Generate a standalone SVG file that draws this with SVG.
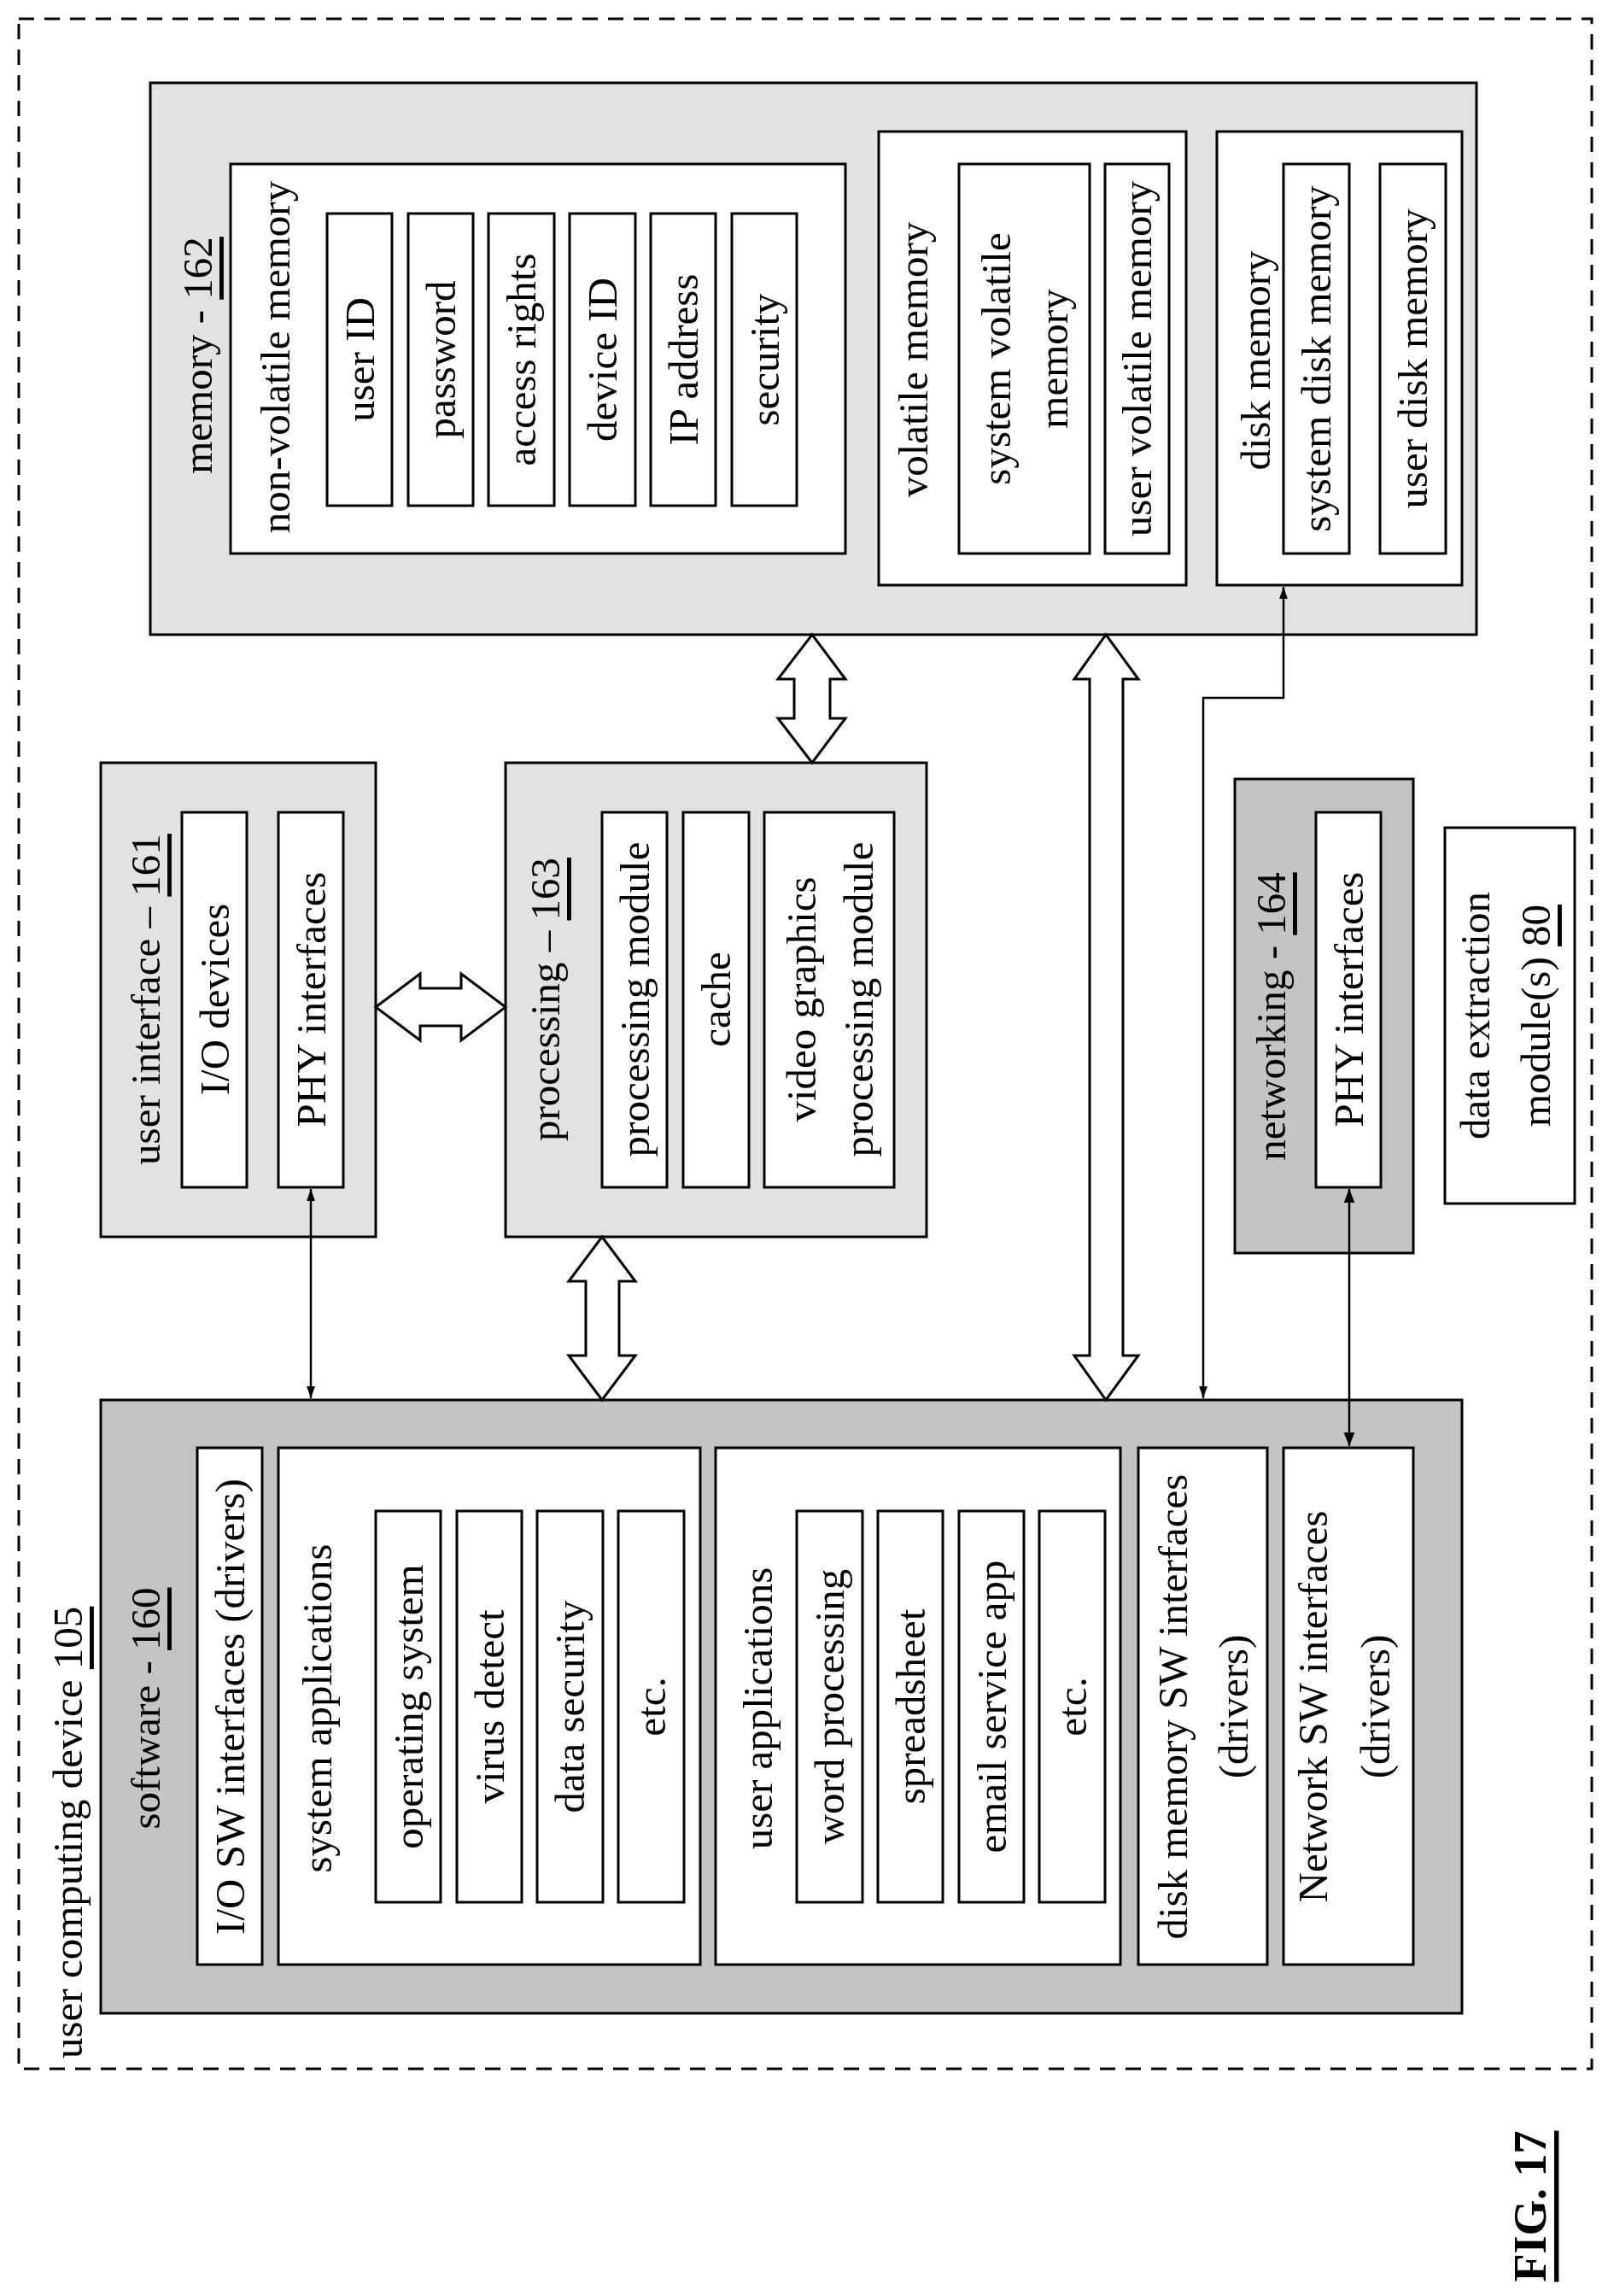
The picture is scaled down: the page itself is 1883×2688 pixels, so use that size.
<svg xmlns="http://www.w3.org/2000/svg" width="1883" height="2688" viewBox="0 0 1883 2688">
<style>
text{font-family:"Liberation Serif","Times New Roman",serif;font-size:49px;fill:#000;text-anchor:middle;dominant-baseline:central}
.b{fill:#fff;stroke:#000;stroke-width:3}
.l{fill:#e2e2e2;stroke:#000;stroke-width:3}
.d{fill:#c4c4c4;stroke:#000;stroke-width:3}
.fat{fill:#fff;stroke:#000;stroke-width:3;stroke-linejoin:miter}
.thin{fill:none;stroke:#000;stroke-width:2.5}
</style>
<defs>
<marker id="ah" viewBox="0 0 10 10" refX="10" refY="5" markerWidth="14" markerHeight="14" orient="auto-start-reverse" markerUnits="userSpaceOnUse"><path d="M0,1.5L10,5L0,8.5z" fill="#000"/></marker>
<marker id="ah2" viewBox="0 0 10 10" refX="10" refY="5" markerWidth="16" markerHeight="16" orient="auto-start-reverse" markerUnits="userSpaceOnUse"><path d="M0,1L10,5L0,9z" fill="#000"/></marker>
</defs>
<g id="device">
<rect x="22" y="22" width="1842" height="2400" fill="none" stroke="#000" stroke-width="3" stroke-dasharray="18,12"/>
<text transform="translate(79,2410) rotate(-90)" style="text-anchor:start">user computing device <tspan text-decoration="underline">105</tspan></text>
</g>
<g id="memory">
<rect class="l" x="176" y="97" width="1553" height="646"/>
<text transform="translate(231,416) rotate(-90)">memory - <tspan text-decoration="underline">162</tspan></text>
<rect class="b" x="270" y="192" width="720" height="456"/>
<text transform="translate(322,418) rotate(-90)">non-volatile memory</text>
<rect class="b" x="383" y="250" width="76" height="342"/><text transform="translate(421,421) rotate(-90)">user ID</text>
<rect class="b" x="478" y="250" width="76" height="342"/><text transform="translate(516,421) rotate(-90)">password</text>
<rect class="b" x="572" y="250" width="77" height="342"/><text transform="translate(610,421) rotate(-90)">access rights</text>
<rect class="b" x="667" y="250" width="77" height="342"/><text transform="translate(705,421) rotate(-90)">device ID</text>
<rect class="b" x="762" y="250" width="76" height="342"/><text transform="translate(800,421) rotate(-90)">IP address</text>
<rect class="b" x="857" y="250" width="76" height="342"/><text transform="translate(895,421) rotate(-90)">security</text>
<rect class="b" x="1029" y="154" width="360" height="531"/>
<text transform="translate(1069,421) rotate(-90)">volatile memory</text>
<rect class="b" x="1123" y="192" width="153" height="456"/>
<text transform="translate(1166,420) rotate(-90)">system volatile</text>
<text transform="translate(1233,420) rotate(-90)">memory</text>
<rect class="b" x="1294" y="192" width="75" height="456"/><text transform="translate(1331,420) rotate(-90)">user volatile memory</text>
<rect class="b" x="1425" y="154" width="287" height="531"/>
<text transform="translate(1470,422) rotate(-90)">disk memory</text>
<rect class="b" x="1503" y="192" width="77" height="456"/><text transform="translate(1541,420) rotate(-90)">system disk memory</text>
<rect class="b" x="1616" y="192" width="77" height="456"/><text transform="translate(1654,420) rotate(-90)">user disk memory</text>
</g>
<g id="user-interface">
<rect class="l" x="118" y="893" width="322" height="555"/>
<text transform="translate(170,1170) rotate(-90)">user interface – <tspan text-decoration="underline">161</tspan></text>
<rect class="b" x="213" y="951" width="76" height="439"/><text transform="translate(251,1170) rotate(-90)">I/O devices</text>
<rect class="b" x="326" y="951" width="76" height="439"/><text transform="translate(364,1170) rotate(-90)">PHY interfaces</text>
</g>
<g id="processing">
<rect class="l" x="592" y="893" width="493" height="555"/>
<text transform="translate(638,1170) rotate(-90)">processing – <tspan text-decoration="underline">163</tspan></text>
<rect class="b" x="705" y="951" width="76" height="439"/><text transform="translate(743,1170) rotate(-90)">processing module</text>
<rect class="b" x="800" y="951" width="77" height="439"/><text transform="translate(838,1170) rotate(-90)">cache</text>
<rect class="b" x="895" y="951" width="152" height="439"/>
<text transform="translate(938,1170) rotate(-90)">video graphics</text>
<text transform="translate(1005,1170) rotate(-90)">processing module</text>
</g>
<g id="networking">
<rect class="d" x="1446" y="912" width="209" height="555"/>
<text transform="translate(1488,1190) rotate(-90)">networking - <tspan text-decoration="underline">164</tspan></text>
<rect class="b" x="1541" y="951" width="76" height="439"/><text transform="translate(1579,1170) rotate(-90)">PHY interfaces</text>
</g>
<g id="data-extraction">
<rect class="b" x="1692" y="969" width="152" height="440"/>
<text transform="translate(1727,1189) rotate(-90)">data extraction</text>
<text transform="translate(1798,1189) rotate(-90)">module(s) <tspan text-decoration="underline">80</tspan></text>
</g>
<g id="software">
<rect class="d" x="118" y="1639" width="1594" height="718"/>
<text transform="translate(170,2000) rotate(-90)">software - <tspan text-decoration="underline">160</tspan></text>
<rect class="b" x="231" y="1695" width="76" height="605"/><text transform="translate(269,1998) rotate(-90)">I/O SW interfaces (drivers)</text>
<rect class="b" x="326" y="1695" width="494" height="605"/>
<text transform="translate(371,2000) rotate(-90)">system applications</text>
<rect class="b" x="440" y="1769" width="76" height="458"/><text transform="translate(478,1998) rotate(-90)">operating system</text>
<rect class="b" x="535" y="1769" width="76" height="458"/><text transform="translate(573,1998) rotate(-90)">virus detect</text>
<rect class="b" x="629" y="1769" width="77" height="458"/><text transform="translate(667,1998) rotate(-90)">data security</text>
<rect class="b" x="724" y="1769" width="77" height="458"/><text transform="translate(762,1998) rotate(-90)">etc.</text>
<rect class="b" x="838" y="1695" width="474" height="605"/>
<text transform="translate(887,2000) rotate(-90)">user applications</text>
<rect class="b" x="933" y="1769" width="77" height="458"/><text transform="translate(971,1998) rotate(-90)">word processing</text>
<rect class="b" x="1028" y="1769" width="76" height="458"/><text transform="translate(1066,1998) rotate(-90)">spreadsheet</text>
<rect class="b" x="1123" y="1769" width="76" height="458"/><text transform="translate(1161,1998) rotate(-90)">email service app</text>
<rect class="b" x="1217" y="1769" width="77" height="458"/><text transform="translate(1255,1998) rotate(-90)">etc.</text>
<rect class="b" x="1333" y="1695" width="151" height="605"/>
<text transform="translate(1373,1998) rotate(-90)">disk memory SW interfaces</text>
<text transform="translate(1444,1998) rotate(-90)">(drivers)</text>
<rect class="b" x="1503" y="1695" width="152" height="605"/>
<text transform="translate(1537,1998) rotate(-90)">Network SW interfaces</text>
<text transform="translate(1610,1998) rotate(-90)">(drivers)</text>
</g>
<g id="connectors">
<path class="fat" d="M951,743L990,795L972,795L972,841L990,841L951,893L911,841L930,841L930,795L911,795Z"/>
<path class="fat" d="M440,1179L492,1140L492,1157L540,1157L540,1140L592,1179L540,1218L540,1201L492,1201L492,1218Z"/>
<path class="fat" d="M705,1448L744,1500L725,1500L725,1587L744,1587L705,1639L666,1587L686,1587L686,1500L666,1500Z"/>
<path class="fat" d="M1295,743L1333,795L1315,795L1315,1587L1333,1587L1295,1639L1258,1587L1276,1587L1276,795L1258,795Z"/>
<line class="thin" x1="364" y1="1392" x2="364" y2="1637" marker-start="url(#ah)" marker-end="url(#ah)"/>
<line class="thin" x1="1580" y1="1392" x2="1580" y2="1693" marker-start="url(#ah2)" marker-end="url(#ah2)"/>
<polyline class="thin" points="1409,1637 1409,817 1503,817 1503,687" marker-start="url(#ah)" marker-end="url(#ah)"/>
</g>
<text transform="translate(1792,2583) rotate(-90)" style="font-weight:bold;font-size:54px" text-decoration="underline">FIG. 17</text>
</svg>
